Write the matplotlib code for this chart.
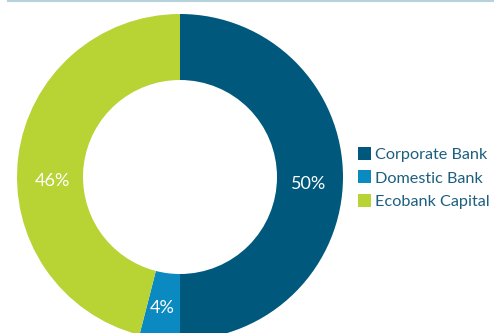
import matplotlib.pyplot as plt
from matplotlib.lines import Line2D

labels = ['Corporate Bank', 'Domestic Bank', 'Ecobank Capital']
shares = [50, 4, 46]
colors = ['#00597c', '#0a8ac1', '#b7d334']

plt.rcParams['font.family'] = ['Lato', 'DejaVu Sans']

fig = plt.figure(figsize=(4.94, 3.33), dpi=100)
ax = fig.add_axes([0, 0, 1, 1])

cx, cy = 180, 156
wedges, texts, autotexts = ax.pie(
    shares, colors=colors, startangle=90, counterclock=False,
    radius=163, center=(cx, cy), frame=True,
    wedgeprops=dict(width=66, linewidth=0),
    autopct=lambda p: f'{p:.0f}%', pctdistance=0.79,
    textprops=dict(color='white', fontsize=13))
ax.set_xlim(0, 494)
ax.set_ylim(0, 333)
ax.set_aspect('equal')
ax.axis('off')

# nudge the labels the way the original sits them
x, y = autotexts[0].get_position()
autotexts[0].set_position((x, cy - 7))
x, y = autotexts[1].get_position()
autotexts[1].set_position((x - 2, y - 3))
x, y = autotexts[2].get_position()
autotexts[2].set_position((x, cy - 4))

leg = ax.legend(wedges, labels, loc='center left', bbox_to_anchor=(351 / 494, 1 - 178 / 333),
                frameon=False, fontsize=11.7, handlelength=0.85, handleheight=0.85,
                handletextpad=0.25, labelspacing=0.5, borderaxespad=0)
for t in leg.get_texts():
    t.set_color('#1d5f7f')

fig.add_artist(Line2D([8 / 494, 1], [1 - 1 / 333, 1 - 1 / 333], transform=fig.transFigure,
                      color='#b5d2dd', linewidth=1.5))

fig.savefig('out.png', dpi=100)
